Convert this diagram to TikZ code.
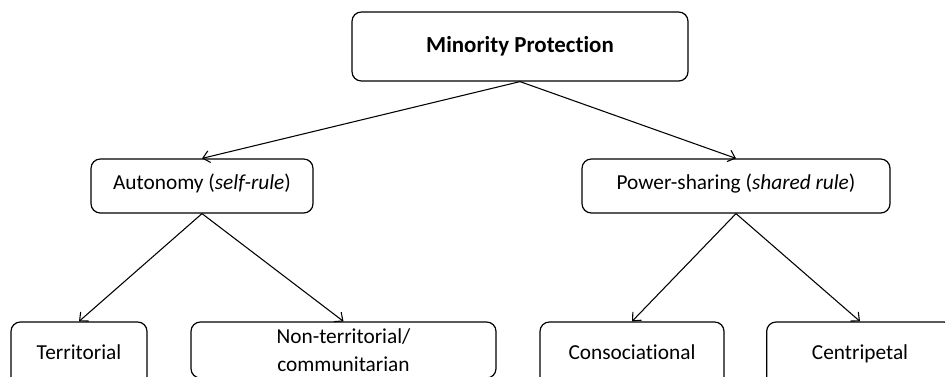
\documentclass[tikz,border=0pt]{standalone}
\usepackage{fontspec}
\setmainfont{Carlito}[Ligatures=NoCommon]
\usetikzlibrary{arrows.meta}
\begin{document}
\begin{tikzpicture}[x=0.75pt,y=-0.75pt,
  box/.style={draw, line width=0.9pt, rounded corners=7pt, inner sep=0pt, align=center, font=\fontsize{16}{21}\selectfont},
  oneline/.style={text height=10pt, text depth=5pt},
  arr/.style={draw, line width=0.8pt, -{Straight Barb[length=5pt,width=9pt]}}]
\clip (0,0) rectangle (945,376);
\useasboundingbox (0,0) rectangle (945,376);
\node[box, minimum width=252pt, minimum height=51.75pt, font=\fontsize{17.2}{20}\bfseries] (top) at (520,46.5) {Minority Protection};
\node[box, oneline, minimum width=166.5pt, minimum height=40.5pt] (auto) at (202,186) {Autonomy (\textit{self-rule})};
\node[box, oneline, minimum width=231pt, minimum height=40.5pt] (power) at (736,186) {Power-sharing (\textit{shared rule})};
\node[box, oneline, minimum width=102pt, minimum height=51pt] (terr) at (79,356) {Territorial};
\node[box, minimum width=228.75pt, minimum height=42pt, font=\fontsize{16}{20.5}\selectfont] (nonterr) at (343.5,350) {Non-territorial/\\communitarian};
\node[box, oneline, minimum width=138pt, minimum height=51pt] (conso) at (632,356) {Consociational};
\node[box, oneline, minimum width=140pt, minimum height=51pt] (centri) at (860,356) {Centripetal};
\draw[arr] (top.south) -- (auto.north);
\draw[arr] (top.south) -- (power.north);
\draw[arr] (auto.south) -- (terr.north);
\draw[arr] (auto.south) -- (nonterr.north);
\draw[arr] (power.south) -- (conso.north);
\draw[arr] (power.south) -- (centri.north);
\end{tikzpicture}
\end{document}
